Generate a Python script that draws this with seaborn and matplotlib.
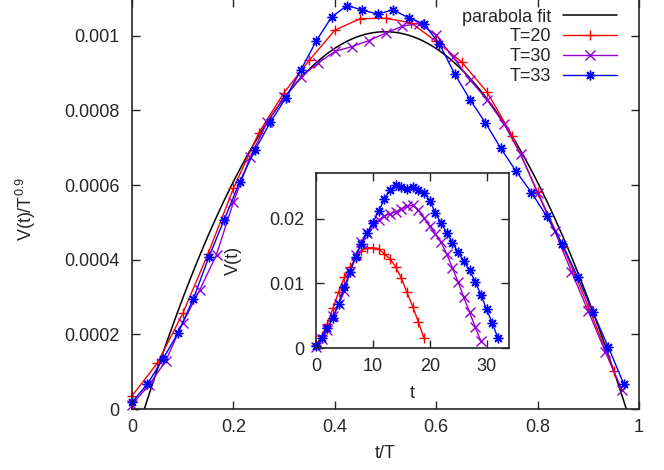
import numpy as np
import pandas as pd
import matplotlib
matplotlib.use("Agg")
import matplotlib.pyplot as plt
import seaborn as sns

# ---------------- data ----------------
T_values = [20, 30, 33]
series_labels = ["T=20", "T=30", "T=33"]
series_colors = ["#ff0000", "#9400d3", "#0000ff"]

# V(t)/T^0.9 (in units of 1e-4) for t = 0 .. T-1
scaled_T20 = [0.35, 1.23, 2.56, 4.16, 5.91, 7.40, 8.48, 9.35, 10.15, 10.46,
              10.47, 10.35, 9.85, 9.30, 8.50, 7.32, 5.81, 4.35, 2.75, 1.03]
scaled_T30 = [0.12, 0.64, 1.29, 2.31, 3.18, 4.14, 5.54, 6.76, 7.68, 8.35,
              8.90, 9.27, 9.58, 9.71, 9.87, 10.07, 10.26, 10.33, 10.02, 9.43,
              8.82, 8.29, 7.65, 6.82, 5.80, 4.78, 3.68, 2.62, 1.54, 0.50]
scaled_T33 = [0.18, 0.67, 1.33, 2.04, 2.96, 4.07, 5.07, 6.08, 6.94, 7.68,
              8.33, 9.09, 9.87, 10.51, 10.81, 10.69, 10.58, 10.70, 10.48, 10.32,
              9.79, 8.98, 8.29, 7.67, 6.99, 6.37, 5.80, 5.16, 4.43, 3.54,
              2.60, 1.66, 0.68]
scaled_series = [scaled_T20, scaled_T30, scaled_T33]
scale_unit = 1e-4
exponent = 0.9

# parabola fit parameters
fit_peak = 10.11e-4
fit_root_left = 0.0243
fit_root_right = 0.975

main_xticks = [0, 0.2, 0.4, 0.6, 0.8, 1.0]
main_xticklabels = ["0", "0.2", "0.4", "0.6", "0.8", "1"]
main_yticks = [0, 0.0002, 0.0004, 0.0006, 0.0008, 0.001]
main_yticklabels = ["0", "0.0002", "0.0004", "0.0006", "0.0008", "0.001"]
inset_xticks = [0, 10, 20, 30]
inset_xticklabels = ["0", "10", "20", "30"]
inset_yticks = [0, 0.01, 0.02]
inset_yticklabels = ["0", "0.01", "0.02"]

# ---------------- build tables ----------------
rows = []
for T, lab, vals in zip(T_values, series_labels, scaled_series):
    for t, v in enumerate(vals):
        y = v * scale_unit
        rows.append({"series": lab, "T": T, "t": t, "tT": t / T,
                     "scaled": y, "V": y * T ** exponent})
df = pd.DataFrame(rows)

xfit = np.linspace(0, 1, 201)
half = (fit_root_right - fit_root_left) / 2
yfit = fit_peak * (xfit - fit_root_left) * (fit_root_right - xfit) / half ** 2
fit_df = pd.DataFrame({"x": xfit, "y": yfit})

# ---------------- style ----------------
sns.set_style("ticks")
plt.rcParams["font.family"] = ["Liberation Sans", "DejaVu Sans"]
plt.rcParams["mathtext.default"] = "regular"
FS = 13

markers = ["+", "x", (8, 2, 0)]
msizes = [7, 6.5, 7]

fig = plt.figure(figsize=(6.64, 4.70), dpi=100)
ax = fig.add_axes([132 / 664, 1 - 409 / 470, 507 / 664, 410.5 / 470])

sns.lineplot(data=fit_df, x="x", y="y", ax=ax, color="black", lw=1.1,
             label="parabola fit", sort=False)
for lab, col, mk, ms in zip(series_labels, series_colors, markers, msizes):
    sub = df[df.series == lab]
    sns.lineplot(data=sub, x="tT", y="scaled", ax=ax, color=col, lw=1.0,
                 marker=mk, markersize=ms, mec=col, mew=1.0, label=lab,
                 sort=False, clip_on=False)

ax.set_xlim(0, 1)
ax.set_ylim(0, 0.0011)
ax.set_xticks(main_xticks)
ax.set_xticklabels(main_xticklabels)
ax.set_yticks(main_yticks)
ax.set_yticklabels(main_yticklabels)
ax.tick_params(axis="both", direction="in", length=5.5, width=1.0,
               top=True, right=True, labelsize=FS)
ax.tick_params(axis="x", pad=7.5)
ax.tick_params(axis="y", pad=9)
for s in ax.spines.values():
    s.set_visible(True)
    s.set_linewidth(1.2)
ax.set_xlabel("t/T", fontsize=FS)
ax.set_ylabel("V(t)/T$^{0.9}$", fontsize=FS)
ax.xaxis.set_label_coords(0.5, -0.087)
ax.yaxis.set_label_coords(-0.185, 0.488)

leg = ax.legend(loc="upper right", bbox_to_anchor=(617 / 664, 1 - 8.5 / 470),
                bbox_transform=fig.transFigure, frameon=False, fontsize=FS,
                markerfirst=False, handlelength=3.0, handletextpad=0.63,
                labelspacing=0.16, borderpad=0, borderaxespad=0, numpoints=1)

# ---------------- inset ----------------
axi = fig.add_axes([316 / 664, 1 - 348.3 / 470, 193.3 / 664, 175 / 470])
axi.set_facecolor("white")
for lab, col, mk, ms in zip(series_labels, series_colors, markers, msizes):
    sub = df[df.series == lab]
    sns.lineplot(data=sub, x="t", y="V", ax=axi, color=col, lw=1.0,
                 marker=mk, markersize=ms, mec=col, mew=1.0,
                 sort=False, clip_on=False, legend=False)
axi.set_xlim(0, 34)
axi.set_ylim(0, 0.027)
axi.set_xticks(inset_xticks)
axi.set_xticklabels(inset_xticklabels)
axi.set_yticks(inset_yticks)
axi.set_yticklabels(inset_yticklabels)
axi.tick_params(axis="both", direction="in", length=5.5, width=1.0,
                top=True, right=True, labelsize=FS)
axi.tick_params(axis="x", pad=7.2)
axi.tick_params(axis="y", pad=8.6)
for s in axi.spines.values():
    s.set_visible(True)
    s.set_linewidth(1.2)
axi.set_xlabel("t", fontsize=FS)
axi.set_ylabel("V(t)", fontsize=FS)
axi.xaxis.set_label_coords(0.5, -0.212)
axi.yaxis.set_label_coords(-0.384, 0.5)

fig.savefig("out.png", dpi=100)
